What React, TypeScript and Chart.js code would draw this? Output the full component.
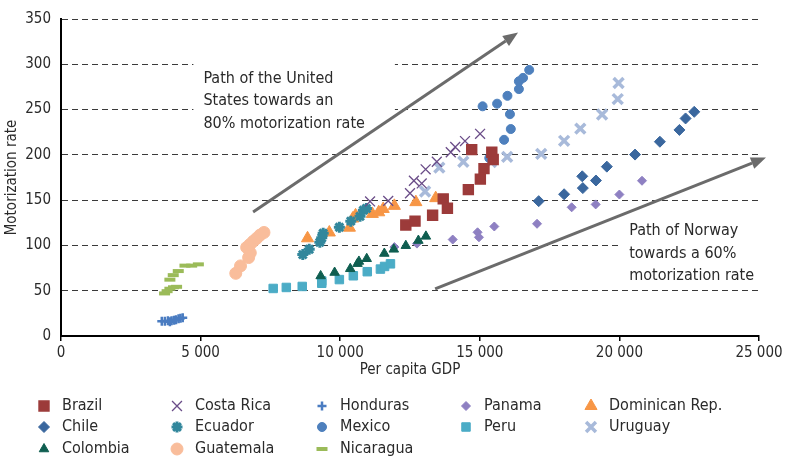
import React, { useEffect, useRef } from 'react';
import { Chart, registerables } from 'chart.js';
import { drawPoint } from 'chart.js/helpers';

Chart.register(...registerables);

const FONT = "'Liberation Sans Narrow', 'DejaVu Sans Condensed', 'Roboto Condensed', Roboto, sans-serif";
const TEXT = '#2a2a2a';

// ---- data (per capita GDP, motorization rate) ----
const brazilGdp = [12350, 12680, 13310, 13690, 13840, 14590, 15020, 15150, 15480, 15430, 14710];
const brazilRate = [122.5, 126.8, 133.4, 151.4, 141.0, 161.6, 173.2, 184.8, 194.9, 202.9, 205.8];

const chileGdp = [17110, 18020, 18690, 18670, 19160, 19550, 20560, 21450, 22150, 22370, 22680];
const chileRate = [148.9, 156.5, 163.3, 176.3, 171.7, 187.0, 200.3, 214.5, 227.5, 240.2, 247.5];

const colombiaGdp = [9300, 9800, 10360, 10620, 10670, 10950, 11580, 11920, 12350, 12800, 13070];
const colombiaRate = [66.3, 70.1, 74.2, 79.9, 82.3, 85.3, 91.1, 95.7, 99.7, 105.4, 110.0];

const costaRicaGdp = [11070, 11720, 12500, 12640, 12920, 13060, 13460, 13960, 14120, 14470, 15010];
const costaRicaRate = [148.6, 149.2, 157.6, 171.4, 168.5, 184.0, 192.4, 202.9, 208.7, 215.2, 223.2];

const ecuadorGdp = [8660, 8890, 9270, 9340, 9390, 9970, 10380, 10710, 10830, 10940];
const ecuadorRate = [89.9, 95.7, 103.5, 108.4, 113.4, 120.1, 126.8, 132.1, 138.8, 140.8];

const guatemalaGdp = [6260, 6430, 6720, 6780, 6650, 6770, 6890, 7010, 7130, 7270];
const guatemalaRate = [69.2, 77.4, 86.6, 91.8, 97.8, 101.1, 104.7, 107.9, 111.4, 114.3];

const hondurasGdp = [3610, 3720, 3830, 3900, 3960, 4050, 4120, 4210, 4280, 4360];
const hondurasRate = [16.3, 16.3, 16.8, 15.8, 16.8, 17.4, 17.9, 19.0, 19.6, 20.1];

const mexicoGdp = [15340, 15870, 16110, 16080, 15100, 15620, 15990, 16400, 16400, 16550, 16770];
const mexicoRate = [196.4, 216.6, 228.5, 244.9, 253.6, 256.5, 265.2, 272.6, 281.2, 285.0, 293.8];

const nicaraguaGdp = [3710, 3800, 3900, 4030, 4140, 3900, 4020, 4200, 4440, 4680, 4920];
const nicaraguaRate = [47.0, 49.5, 52.2, 53.8, 54.3, 62.2, 67.2, 71.7, 77.7, 77.7, 79.1];

const panamaGdp = [11940, 12750, 14030, 14920, 14970, 15520, 17050, 18290, 19150, 20000, 20810];
const panamaRate = [98.2, 102.0, 106.5, 114.5, 109.0, 120.9, 123.9, 142.1, 145.3, 156.2, 171.4];

const peruGdp = [7600, 8070, 8640, 9340, 9340, 9970, 10470, 10970, 11440, 11590, 11800];
const peruRate = [52.5, 53.6, 54.7, 58.2, 60.7, 62.3, 66.5, 71.0, 73.9, 76.8, 79.7];

const dominicanGdp = [8830, 9610, 10330, 10450, 10550, 11150, 11380, 11540, 11940, 12710, 13420];
const dominicanRate = [107.9, 114.3, 119.6, 129.7, 133.2, 134.8, 136.6, 140.3, 143.7, 147.8, 152.2];

const uruguayGdp = [13040, 13550, 14410, 15400, 15980, 17200, 18020, 18600, 19380, 19940, 19970];
const uruguayRate = [159.5, 185.9, 192.4, 192.1, 197.8, 201.1, 215.5, 229.0, 244.6, 261.6, 279.3];

const xTicks = [0, 5000, 10000, 15000, 20000, 25000];
const yTicks = [0, 50, 100, 150, 200, 250, 300, 350];

// annotations (data coordinates)
const usArrowFrom = [6880, 137];
const usArrowTo = [16370, 335];
const norwayArrowFrom = [13400, 52];
const norwayArrowTo = [25250, 197];
const usText = ['Path of the United', 'States towards an', '80% motorization rate'];
const usTextAt = [5100, 284];
const norwayText = ['Path of Norway', 'towards a 60%', 'motorization rate'];
const norwayTextAt = [20350, 116];

// ---- series & styles ----
const series = [
  { name: 'Brazil', x: brazilGdp, y: brazilRate },
  { name: 'Chile', x: chileGdp, y: chileRate },
  { name: 'Colombia', x: colombiaGdp, y: colombiaRate },
  { name: 'Costa Rica', x: costaRicaGdp, y: costaRicaRate },
  { name: 'Ecuador', x: ecuadorGdp, y: ecuadorRate },
  { name: 'Guatemala', x: guatemalaGdp, y: guatemalaRate },
  { name: 'Honduras', x: hondurasGdp, y: hondurasRate },
  { name: 'Mexico', x: mexicoGdp, y: mexicoRate },
  { name: 'Nicaragua', x: nicaraguaGdp, y: nicaraguaRate },
  { name: 'Panama', x: panamaGdp, y: panamaRate },
  { name: 'Peru', x: peruGdp, y: peruRate },
  { name: 'Dominican Rep.', x: dominicanGdp, y: dominicanRate },
  { name: 'Uruguay', x: uruguayGdp, y: uruguayRate },
];

const styles: Record<string, any> = {
  'Brazil': { color: '#9C3B3A', pointStyle: 'rect', r: 7, bw: 1.5 },
  'Chile': { color: '#3A679E', pointStyle: 'rectRot', r: 5.5, bw: 1 },
  'Colombia': { color: '#0F5E50', pointStyle: 'triangle', r: 5.5, bw: 1 },
  'Costa Rica': { color: '#6A4C88', pointStyle: 'crossRot', r: 7, bw: 1.3 },
  'Ecuador': { color: '#32879C', pointStyle: 'star', r: 5.5, bw: 3 },
  'Guatemala': { color: '#F9BD9B', pointStyle: 'circle', r: 6, bw: 1 },
  'Honduras': { color: '#4A7CC1', pointStyle: 'cross', r: 4.5, bw: 2.5 },
  'Mexico': { color: '#4E80BD', pointStyle: 'circle', r: 4.5, bw: 1 },
  'Nicaragua': { color: '#9BBB59', pointStyle: 'line', r: 5.5, bw: 4 },
  'Panama': { color: '#8E80C2', pointStyle: 'rectRot', r: 4.5, bw: 1 },
  'Peru': { color: '#4BACC6', pointStyle: 'rect', r: 6, bw: 1 },
  'Dominican Rep.': { color: '#F79646', pointStyle: 'triangle', r: 7, bw: 1 },
  'Uruguay': { color: '#A8BADA', pointStyle: 'crossRot', r: 7, bw: 3.5 },
};

const legendColumns = [
  ['Brazil', 'Chile', 'Colombia'],
  ['Costa Rica', 'Ecuador', 'Guatemala'],
  ['Honduras', 'Mexico', 'Nicaragua'],
  ['Panama', 'Peru'],
  ['Dominican Rep.', 'Uruguay'],
];

function fmt(v: number) {
  const s = String(Math.round(v));
  return s.replace(/\B(?=(\d{3})+(?!\d))/g, ' ');
}

function drawArrow(ctx: CanvasRenderingContext2D, x1: number, y1: number, x2: number, y2: number) {
  const ang = Math.atan2(y2 - y1, x2 - x1);
  const head = 15;
  const half = 6;
  const bx = x2 - Math.cos(ang) * head;
  const by = y2 - Math.sin(ang) * head;
  ctx.save();
  ctx.strokeStyle = '#6b6b6b';
  ctx.fillStyle = '#6b6b6b';
  ctx.lineWidth = 3;
  ctx.beginPath();
  ctx.moveTo(x1, y1);
  ctx.lineTo(bx, by);
  ctx.stroke();
  ctx.beginPath();
  ctx.moveTo(x2, y2);
  ctx.lineTo(bx + Math.sin(ang) * half, by - Math.cos(ang) * half);
  ctx.lineTo(bx - Math.sin(ang) * half, by + Math.cos(ang) * half);
  ctx.closePath();
  ctx.fill();
  ctx.restore();
}

const annotationPlugin = {
  id: 'annotations',
  beforeDatasetsDraw(chart: any) {
    const { ctx, scales } = chart;
    const xs = scales.x;
    const ys = scales.y;
    const lh = 22.5;
    const drawBlock = (lines: string[], at: number[], padR: number) => {
      const px = xs.getPixelForValue(at[0]);
      const py = ys.getPixelForValue(at[1]);
      ctx.save();
      ctx.font = `16px ${FONT}`;
      let w = 0;
      lines.forEach((l) => { w = Math.max(w, ctx.measureText(l).width); });
      ctx.fillStyle = '#ffffff';
      ctx.fillRect(px - 10, py - lh / 2 - 10, w + 10 + padR, lh * lines.length + 12);
      ctx.fillStyle = TEXT;
      ctx.textBaseline = 'middle';
      ctx.textAlign = 'left';
      lines.forEach((l, i) => ctx.fillText(l, px, py + i * lh));
      ctx.restore();
    };
    drawBlock(usText, usTextAt, 30);
    drawBlock(norwayText, norwayTextAt, 40);
    drawArrow(ctx, xs.getPixelForValue(usArrowFrom[0]), ys.getPixelForValue(usArrowFrom[1]),
      xs.getPixelForValue(usArrowTo[0]), ys.getPixelForValue(usArrowTo[1]));
    drawArrow(ctx, xs.getPixelForValue(norwayArrowFrom[0]), ys.getPixelForValue(norwayArrowFrom[1]),
      xs.getPixelForValue(norwayArrowTo[0]), ys.getPixelForValue(norwayArrowTo[1]));
  },
  afterDraw(chart: any) {
    const { ctx } = chart;
    const colX = [44, 177, 322, 466, 591];
    const rowY = [406, 427, 449];
    ctx.save();
    ctx.font = `16px ${FONT}`;
    ctx.textBaseline = 'middle';
    ctx.textAlign = 'left';
    legendColumns.forEach((col, ci) => {
      col.forEach((name, ri) => {
        const st = styles[name];
        const x = colX[ci];
        const y = rowY[ri];
        ctx.fillStyle = st.color;
        ctx.strokeStyle = st.color;
        ctx.lineWidth = st.bw;
        drawPoint(ctx, { pointStyle: st.pointStyle, rotation: 0, radius: st.r, borderWidth: st.bw }, x, y);
        ctx.fillStyle = TEXT;
        ctx.fillText(name, x + 18, y);
      });
    });
    ctx.restore();
  },
};

export default function App() {
  const ref = useRef<HTMLCanvasElement | null>(null);
  useEffect(() => {
    document.body.style.margin = '0';
    const canvas = ref.current!;
    const datasets = series.map((s) => {
      const st = styles[s.name];
      return {
        label: s.name,
        data: s.x.map((v, i) => ({ x: v, y: s.y[i] })),
        pointStyle: st.pointStyle,
        pointRadius: st.r,
        pointBorderWidth: st.bw,
        backgroundColor: st.color,
        borderColor: st.color,
        showLine: false,
      };
    });
    const chart = new Chart(canvas, {
      type: 'scatter',
      data: { datasets },
      plugins: [annotationPlugin],
      options: {
        animation: false,
        responsive: false,
        devicePixelRatio: 1,
        layout: { padding: { left: 0, right: 29, top: 15, bottom: 76 } },
        plugins: { legend: { display: false }, tooltip: { enabled: false } },
        scales: {
          x: {
            type: 'linear',
            min: 0,
            max: 25000,
            afterBuildTicks: (s: any) => { s.ticks = xTicks.map((v) => ({ value: v })); },
            afterFit: (s: any) => { s.height = 50; },
            ticks: {
              callback: (v: any) => fmt(Number(v)),
              font: { family: FONT, size: 15 },
              color: TEXT,
              padding: 3,
              maxRotation: 0,
              autoSkip: false,
            },
            grid: { drawOnChartArea: false, drawTicks: true, tickLength: 5, color: '#000', lineWidth: 1.5 },
            border: { color: '#000', width: 2 },
            title: { display: true, text: 'Per capita GDP', font: { family: FONT, size: 15 }, color: TEXT, padding: { top: 0, bottom: 7 } },
          },
          y: {
            type: 'linear',
            min: 0,
            max: 350,
            afterBuildTicks: (s: any) => { s.ticks = yTicks.map((v) => ({ value: v })); },
            afterFit: (s: any) => { s.width = 61; },
            ticks: { font: { family: FONT, size: 15 }, color: TEXT, padding: 10, autoSkip: false },
            grid: { color: '#3a3a3a', lineWidth: 1, drawTicks: false },
            border: { color: '#000', width: 2, dash: [6, 4] },
            title: { display: true, text: 'Motorization rate', font: { family: FONT, size: 15 }, color: TEXT, padding: { top: 3, bottom: 0 } },
          },
        },
      },
    } as any);
    return () => chart.destroy();
  }, []);
  return (
    <div style={{ position: 'absolute', left: 0, top: 0, width: 788, height: 462 }}>
      <canvas ref={ref} width={788} height={462} />
    </div>
  );
}
